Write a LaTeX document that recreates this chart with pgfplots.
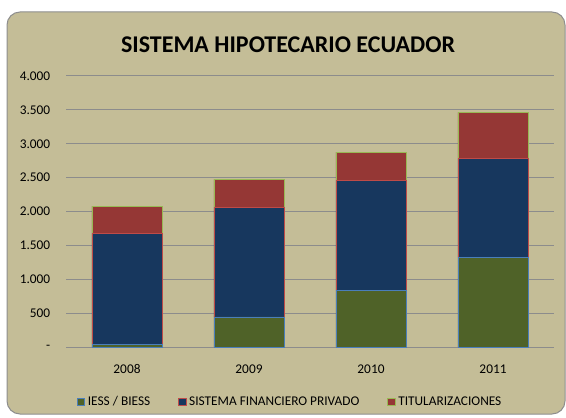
\documentclass[border=0pt]{standalone}
\usepackage{fontspec}
\setmainfont{Carlito}
\usepackage{pgfplots}
\pgfplotsset{compat=1.18}
\definecolor{bgk}{HTML}{C4BD97}
\definecolor{frame}{HTML}{8E8E8E}
\definecolor{gridc}{HTML}{8C8C8C}
\definecolor{cgreen}{HTML}{4F6228}
\definecolor{cnavy}{HTML}{17375E}
\definecolor{cred}{HTML}{953735}
\definecolor{egreen}{HTML}{4A7EBB}
\definecolor{enavy}{HTML}{BE4B48}
\definecolor{ered}{HTML}{98B954}
\begin{document}
\begin{tikzpicture}
\useasboundingbox (0,0) rectangle (424.5pt,312.75pt);
\fill[white] (0,0) rectangle (424.5pt,312.75pt);
\draw[frame, fill=bgk, line width=0.75pt, rounded corners=9.75pt] (5.25pt,2.25pt) rectangle (423.75pt,303.75pt);
\node[font=\fontsize{18}{22}\selectfont\bfseries] at (216pt,279pt) {SISTEMA HIPOTECARIO ECUADOR};
\begin{axis}[
  at={(49.5pt,52.5pt)}, anchor=south west,
  scale only axis, width=366pt, height=203.25pt,
  ybar stacked, bar width=0.574,
  xmin=-0.5, xmax=3.5, ymin=0, ymax=4000,
  xtick={0,1,2,3}, xticklabels={2008,2009,2010,2011},
  ytick={0,500,1000,1500,2000,2500,3000,3500,4000},
  yticklabels={{-\hspace{5pt}},500,1.000,1.500,2.000,2.500,3.000,3.500,4.000},
  axis line style={draw=none},
  tick style={draw=none},
  ymajorgrids, major grid style={gridc, line width=0.75pt},
  ticklabel style={font=\fontsize{10}{12}\selectfont},
  yticklabel style={xshift=-8.3pt},
  xticklabel style={yshift=-9.5pt},
  legend columns=3,
  legend style={at={(0.46,-0.2030)}, anchor=center, draw=none, fill=none,
    font=\fontsize{10}{12}\selectfont,
    /tikz/every even column/.append style={column sep=19pt}},
  legend image code/.code={\draw[#1, line width=0.6pt] (0pt,-2.8pt) rectangle (5.6pt,2.8pt);},
]
\addplot[fill=cgreen, draw=egreen, line width=0.6pt] coordinates {(0,40) (1,443) (2,831) (3,1324)};
\addplot[fill=cnavy, draw=enavy, line width=0.6pt] coordinates {(0,1632) (1,1619) (2,1629) (3,1456)};
\addplot[fill=cred, draw=ered, line width=0.6pt] coordinates {(0,409) (1,413) (2,418) (3,684)};
\legend{IESS / BIESS, SISTEMA FINANCIERO PRIVADO, TITULARIZACIONES}
\end{axis}
\end{tikzpicture}
\end{document}
